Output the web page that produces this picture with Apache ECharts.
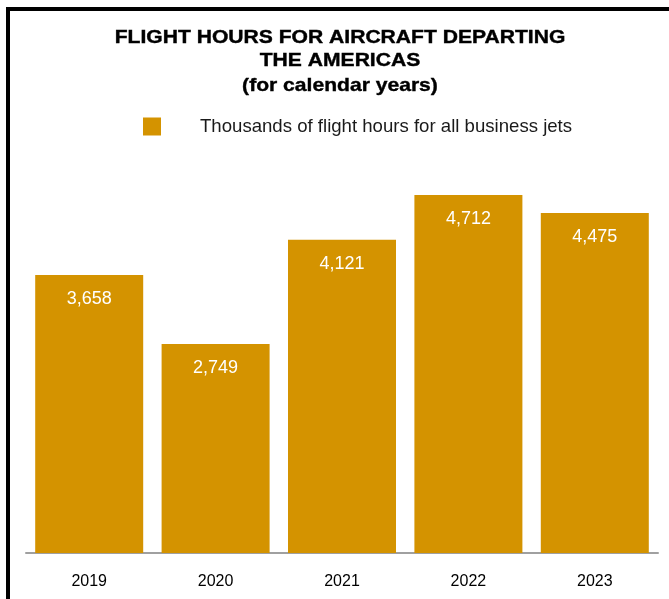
<!DOCTYPE html>
<html><head><meta charset="utf-8">
<script src="https://cdn.jsdelivr.net/npm/echarts@6/dist/echarts.min.js"></script>
<style>html,body{margin:0;padding:0;background:#fff}#c{width:669px;height:599px}</style>
</head><body><div id="c"></div>
<script>
const categories = ['2019', '2020', '2021', '2022', '2023'];
const flightHours = [3658, 2749, 4121, 4712, 4475];
const seriesName = 'Thousands of flight hours for all business jets';
const titleLines = ['FLIGHT HOURS FOR AIRCRAFT DEPARTING', 'THE AMERICAS', '(for calendar years)'];
const FONT = 'Arial, "Liberation Sans", sans-serif';
const titleMiddles = [37.3, 60.3, 85.5];

const chart = echarts.init(document.getElementById('c'));
chart.setOption({
  animation: false,
  textStyle: { fontFamily: FONT },
  legend: {
    left: 143, top: 117, padding: 0,
    itemWidth: 18, itemHeight: 18, icon: 'rect',
    data: [seriesName],
    textStyle: { fontSize: 18.6, color: '#1a1a1a', padding: [0, 0, 0, 34] }
  },
  graphic: [
    {
      type: 'rect', shape: { x: 8, y: 9, width: 800, height: 800 },
      style: { fill: 'none', stroke: '#000', lineWidth: 4 }, silent: true, z: 100
    }
  ].concat(titleLines.map((t, i) => ({
    type: 'text', x: 340, y: titleMiddles[i], scaleX: 1.11, silent: true,
    style: {
      text: t, fill: '#000', stroke: '#000', lineWidth: 0.4, font: 'bold 19px ' + FONT,
      textAlign: 'center', textVerticalAlign: 'middle'
    }
  }))),
  grid: { left: 26, right: 11, top: 173, bottom: 46, containLabel: false },
  xAxis: {
    type: 'category', data: categories,
    axisLine: { lineStyle: { color: '#a0a0a0', width: 2 } },
    axisTick: { show: false },
    axisLabel: { fontSize: 16, color: '#000', margin: 21 }
  },
  yAxis: { type: 'value', min: 0, max: 5000, show: false, splitLine: { show: false } },
  series: [{
    name: seriesName, type: 'bar', data: flightHours, barWidth: 108,
    itemStyle: { color: '#D49300' },
    label: {
      show: true, position: 'insideTop', distance: 15, color: '#fff', fontSize: 18,
      formatter: p => p.value.toLocaleString('en-US')
    }
  }]
});
</script></body></html>
